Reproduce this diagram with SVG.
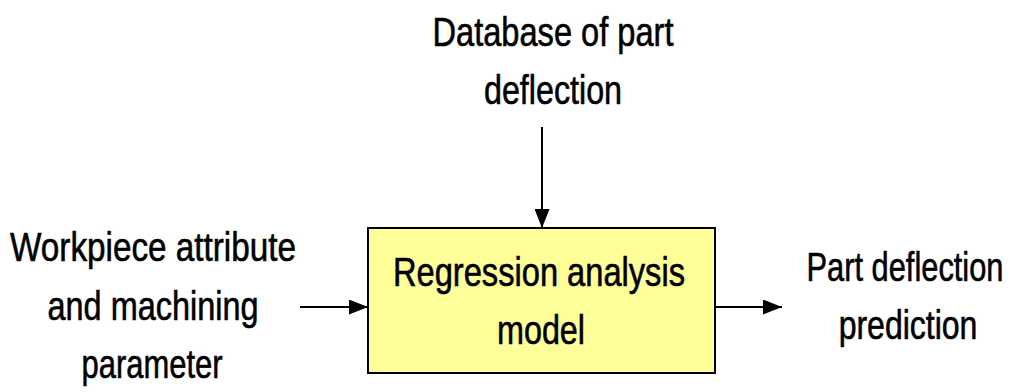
<svg xmlns="http://www.w3.org/2000/svg" width="1020" height="392" viewBox="0 0 1020 392">
  <style>
    .lbl { font-family: "Liberation Sans", Arial, sans-serif; font-size: 40px; fill: #000; stroke: #000; stroke-width: 0.6px; text-anchor: middle; }
    .wire { stroke: #000; stroke-width: 2; fill: none; }
    .box { fill: #FFFF99; stroke: #000; stroke-width: 2; }
  </style>
  <defs>
    <marker id="head" viewBox="0 0 19 15" refX="19" refY="7.5" markerWidth="19" markerHeight="15" markerUnits="userSpaceOnUse" orient="auto">
      <path d="M0,0 L19,7.5 L0,15 Z" fill="#000"/>
    </marker>
  </defs>

  <rect width="1020" height="392" fill="#fff"/>

  <!-- connectors -->
  <g id="connectors">
    <line class="wire" x1="542" y1="127" x2="542" y2="228" marker-end="url(#head)"/>
    <line class="wire" x1="300" y1="307" x2="368" y2="307" marker-end="url(#head)"/>
    <line class="wire" x1="715" y1="307" x2="782" y2="307" marker-end="url(#head)"/>
  </g>

  <!-- input from above -->
  <g id="database">
    <text class="lbl" x="553" y="46" textLength="241" lengthAdjust="spacingAndGlyphs">Database of part</text>
    <text class="lbl" x="553" y="104" textLength="138" lengthAdjust="spacingAndGlyphs">deflection</text>
  </g>

  <!-- input from the left -->
  <g id="workpiece">
    <text class="lbl" x="153" y="261" textLength="286" lengthAdjust="spacingAndGlyphs">Workpiece attribute</text>
    <text class="lbl" x="153" y="320" textLength="211" lengthAdjust="spacingAndGlyphs">and machining</text>
    <text class="lbl" x="152" y="378" textLength="141" lengthAdjust="spacingAndGlyphs">parameter</text>
  </g>

  <!-- central model -->
  <g id="model">
    <rect class="box" x="368" y="228" width="347" height="145"/>
    <text class="lbl" x="539" y="286" textLength="292" lengthAdjust="spacingAndGlyphs">Regression analysis</text>
    <text class="lbl" x="541" y="344" textLength="88" lengthAdjust="spacingAndGlyphs">model</text>
  </g>

  <!-- output, condensed horizontally to fit the right margin -->
  <g id="prediction">
    <text class="lbl" transform="translate(905,281) scale(0.77,1)">Part deflection</text>
    <text class="lbl" transform="translate(908,339) scale(0.8,1)">prediction</text>
  </g>
</svg>
